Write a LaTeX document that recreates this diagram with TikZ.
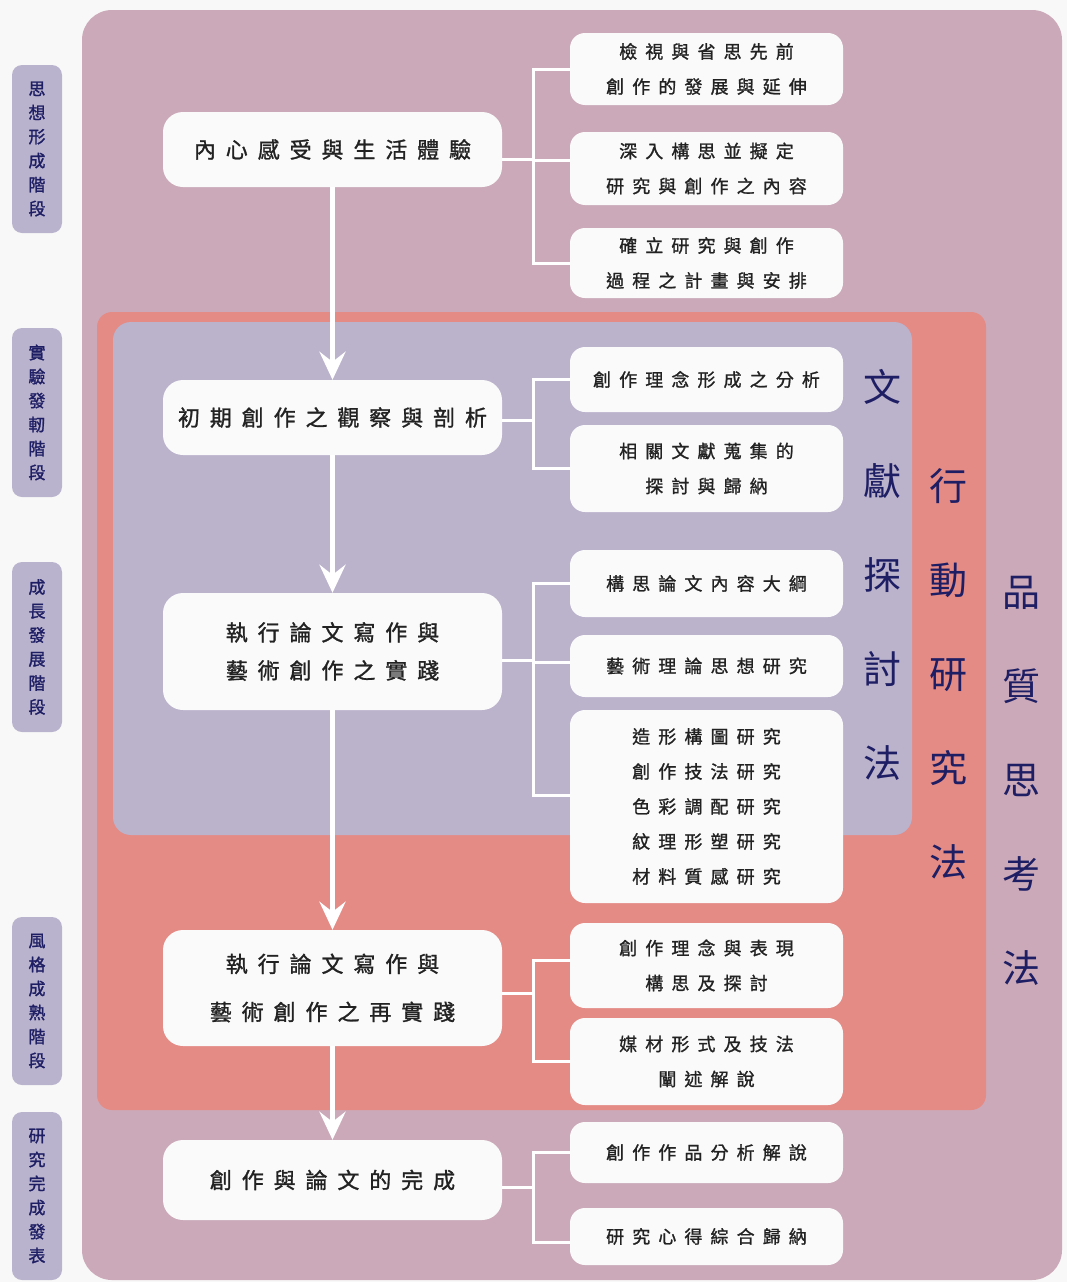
\documentclass[tikz,border=0pt]{standalone}
\usepackage{fontspec}
\setmainfont{Noto Sans CJK TC}
\newfontfamily\cjksp[LetterSpace=45,FakeBold=1.2]{Noto Sans CJK TC}
\newfontfamily\cjkb[FakeBold=1.4]{Noto Sans CJK TC}
\usetikzlibrary{arrows.meta}
\definecolor{bgc}{HTML}{F8F8F8}
\definecolor{mauve}{HTML}{CBA9B8}
\definecolor{salmon}{HTML}{E48B86}
\definecolor{lav}{HTML}{BBB2CC}
\definecolor{labc}{HTML}{BAB3CD}
\definecolor{navy}{HTML}{1E1E64}
\definecolor{boxw}{HTML}{FAFAFA}
\definecolor{txt}{HTML}{222222}
\begin{document}
\begin{tikzpicture}[x=1pt,y=-1pt,
 mainbox/.style={fill=boxw, rounded corners=20pt, minimum width=339pt, align=center, text=txt, font=\cjksp\fontsize{22}{38}\selectfont, inner sep=0pt},
 subbox/.style={fill=boxw, rounded corners=15pt, minimum width=273pt, align=center, text=txt, font=\cjksp\fontsize{18}{35}\selectfont, inner sep=0pt},
 stagebox/.style={fill=labc, rounded corners=10pt, minimum width=50pt, align=center, text=navy, font=\cjkb\fontsize{17}{24}\selectfont, inner sep=0pt},
 method/.style={align=center, text=navy, font=\fontsize{38}{94}\selectfont, inner sep=0pt},
 conn/.style={draw=white, line width=3pt},
 flow/.style={draw=white, line width=5pt, -{Stealth[length=28pt,width=26pt,inset=10pt]}}
]
% canvas
\fill[bgc] (0,0) rectangle (1067,1282);
\useasboundingbox (0,0) rectangle (1067,1282);
% regions
\fill[mauve, rounded corners=30pt] (82,10) rectangle (1062,1280);
\fill[salmon, rounded corners=15pt] (97,312) rectangle (986,1110);
\fill[lav, rounded corners=18pt] (113,322) rectangle (912,835);

% stage labels
\node[stagebox, minimum height=168pt] (l1) at (37,149) {思\\想\\形\\成\\階\\段};
\node[stagebox, minimum height=169pt] (l2) at (37,412.5) {實\\驗\\發\\軔\\階\\段};
\node[stagebox, minimum height=170pt] (l3) at (37,647) {成\\長\\發\\展\\階\\段};
\node[stagebox, minimum height=168pt] (l4) at (37,1001) {風\\格\\成\\熟\\階\\段};
\node[stagebox, minimum height=168pt] (l5) at (37,1196) {研\\究\\完\\成\\發\\表};

% main boxes
\node[mainbox, minimum height=75pt] (m1) at (332.5,149.5) {內心感受與生活體驗};
\node[mainbox, minimum height=75pt] (m2) at (332.5,417.5) {初期創作之觀察與剖析};
\node[mainbox, minimum height=117pt] (m3) at (332.5,651.5) {執行論文寫作與\\藝術創作之實踐};
\node[mainbox, minimum height=116pt, font=\cjksp\fontsize{22}{48}\selectfont] (m4) at (332.5,988) {執行論文寫作與\\藝術創作之再實踐};
\node[mainbox, minimum height=80pt] (m5) at (332.5,1180) {創作與論文的完成};

% sub boxes
\node[subbox, minimum height=72pt] (r1a) at (706.5,69) {檢視與省思先前\\創作的發展與延伸};
\node[subbox, minimum height=73pt] (r1b) at (706.5,168.5) {深入構思並擬定\\研究與創作之內容};
\node[subbox, minimum height=70pt] (r1c) at (706.5,263) {確立研究與創作\\過程之計畫與安排};
\node[subbox, minimum height=65pt] (r2a) at (706.5,379.5) {創作理念形成之分析};
\node[subbox, minimum height=87pt] (r2b) at (706.5,468.5) {相關文獻蒐集的\\探討與歸納};
\node[subbox, minimum height=67pt] (r3a) at (706.5,583.5) {構思論文內容大綱};
\node[subbox, minimum height=62pt] (r3b) at (706.5,666) {藝術理論思想研究};
\node[subbox, minimum height=193pt] (r3c) at (706.5,806.5) {造形構圖研究\\創作技法研究\\色彩調配研究\\紋理形塑研究\\材料質感研究};
\node[subbox, minimum height=85pt] (r4a) at (706.5,965.5) {創作理念與表現\\構思及探討};
\node[subbox, minimum height=87pt] (r4b) at (706.5,1061.5) {媒材形式及技法\\闡述解說};
\node[subbox, minimum height=61pt] (r5a) at (706.5,1152.5) {創作作品分析解說};
\node[subbox, minimum height=57pt] (r5b) at (706.5,1236.5) {研究心得綜合歸納};

% method labels
\node[method] (t1) at (882,575) {文\\獻\\探\\討\\法};
\node[method] (t2) at (948,674.5) {行\\動\\研\\究\\法};
\node[method] (t3) at (1021,781) {品\\質\\思\\考\\法};

% connectors
\coordinate (bar) at (533,0);
\draw[conn] ([yshift=-10pt]m1.east) -- ([yshift=-10pt]m1.east -| bar);
\draw[conn] (r1a.west) -- (r1a.west -| bar) -- (r1c.west -| bar) -- (r1c.west);
\draw[conn] ([yshift=8.5pt]r1b.west) -- ([yshift=8.5pt]r1b.west -| bar);

\draw[conn] ([yshift=-2.5pt]m2.east) -- ([yshift=-2.5pt]m2.east -| bar);
\draw[conn] (r2a.west) -- (r2a.west -| bar) -- (r2b.west -| bar) -- (r2b.west);

\draw[conn] ([yshift=-9pt]m3.east) -- ([yshift=-9pt]m3.east -| bar);
\draw[conn] (r3a.west) -- (r3a.west -| bar) -- ([yshift=11.5pt]r3c.west -| bar) -- ([yshift=11.5pt]r3c.west);
\draw[conn] ([yshift=4pt]r3b.west) -- ([yshift=4pt]r3b.west -| bar);

\draw[conn] ([yshift=-5pt]m4.east) -- ([yshift=-5pt]m4.east -| bar);
\draw[conn] ([yshift=5.5pt]r4a.west) -- ([yshift=5.5pt]r4a.west -| bar) -- (r4b.west -| bar) -- (r4b.west);

\draw[conn] ([yshift=-7pt]m5.east) -- ([yshift=-7pt]m5.east -| bar);
\draw[conn] (r5a.west) -- (r5a.west -| bar) -- ([yshift=-5.5pt]r5b.west -| bar) -- ([yshift=-5.5pt]r5b.west);

% flow arrows
\draw[flow] (m1.south) -- (m2.north);
\draw[flow] (m2.south) -- (m3.north);
\draw[flow] (m3.south) -- (m4.north);
\draw[flow] (m4.south) -- (m5.north);
\end{tikzpicture}
\end{document}
